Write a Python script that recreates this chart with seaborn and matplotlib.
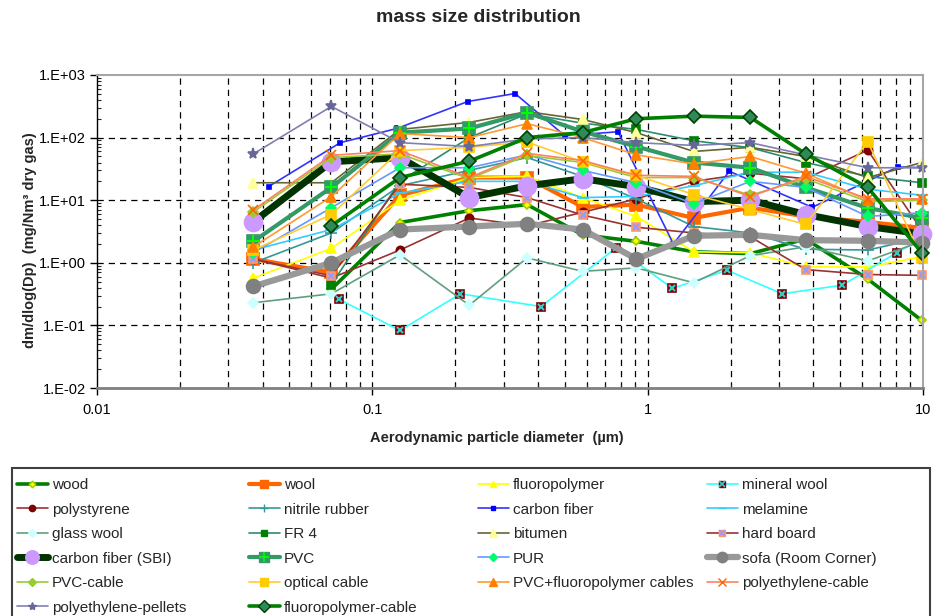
import numpy as np
import pandas as pd
import matplotlib
matplotlib.use("Agg")
import matplotlib.pyplot as plt
from matplotlib.lines import Line2D
from matplotlib.legend_handler import HandlerTuple
from matplotlib.patches import Rectangle
from matplotlib.ticker import FixedLocator, FuncFormatter, NullFormatter
import seaborn as sns

sns.set_style("white")
plt.rcParams["font.family"] = ["Liberation Sans", "DejaVu Sans"]

# impactor stage mid diameters (µm)
dp = [0.037, 0.071, 0.126, 0.225, 0.365, 0.58, 0.91, 1.47, 2.36, 3.75, 6.3, 9.9]
dp_mineral = [0.0758, 0.126, 0.209, 0.41, 0.77, 1.23, 1.94, 3.08, 5.1, 8.03, 9.9]
dp_carbon = [0.042, 0.0765, 0.123, 0.222, 0.33, 0.50, 0.78, 1.24, 1.98, 3.96, 8.1, 9.9]

# dm/dlog(Dp) in mg/Nm3 dry gas
wood = [np.nan, 0.38, 4.4, 6.8, 8.5, 2.8, 2.2, 1.5, 1.4, 2.4, 0.55, 0.12]
wool = [1.15, 0.7, 12, 23, 23, 7.8, 8.5, 5.2, 7.6, 5.5, 4.5, 3.6]
fluoropolymer = [0.57, 1.7, 10, 23, 24, 11, 5.5, 1.5, 1.45, 0.86, 0.86, 1.25]
mineral_wool = [0.26, 0.083, 0.32, 0.2, 1.75, 0.39, 0.76, 0.32, 0.44, 1.45, 2.4]
polystyrene = [1.15, 0.57, 1.6, 5.2, 3.9, 6.4, 10.5, 20, 27, 22, 63, 3.3]
nitrile_rubber = [1.0, 3.0, 17, 30, 48, 24, 10.5, 3.8, 3.0, 1.65, 1.6, 2.5]
carbon_fiber = [16.5, 83, 140, 377, 506, 107, 124, 2.0, 29, 7.7, 34, 33]
melamine = [1.6, 3.4, 13, 20, 20, 11, 11.5, 17, 28, 28, 15, 12]
glass_wool = [0.23, 0.32, 1.34, 0.21, 1.2, 0.73, 0.83, 0.48, 1.3, 1.8, 1.07, 2.2]
fr4 = [np.nan, 0.45, 20, 100, 240, 170, 135, 89, 69, 40, 24, 19]
bitumen = [19, 19, 135, 175, 260, 195, 120, 60, 70, 50, 23, 40]
hard_board = [1.15, 0.62, 18, 16, 11, 5.8, 3.7, 3.0, 2.6, 0.78, 0.65, 0.63]
carbon_fiber_sbi = [4.5, 41, 48, 11, 17, 22, 16.5, 9.5, 10, 5.9, 3.8, 2.9]
pvc = [2.2, 16, 120, 140, 250, 125, 72, 40, 33, 16, 7.5, 5.2]
pur = [1.45, 7.6, 33, 33, 53, 30, 19, 8.8, 20, 16, 5.5, 6.3]
sofa = [0.42, 1.0, 3.4, 3.8, 4.2, 3.4, 1.15, 2.7, 2.8, 2.3, 2.25, 2.1]
pvc_cable = [6.5, 48, 55, 22, 52, 40, 23, 23, 12, 22, 9.5, 10]
optical_cable = [1.6, 5.9, 62, 70, 85, 41, 25, 12.3, 7.1, 4.1, 86, 1.2]
pvc_fp_cables = [1.8, 11.4, 116, 100, 167, 100, 53, 38, 50, 27, 10, 10.5]
pe_cable = [7.0, 52, 62, 23, 56, 43, 25, 24, 11.4, 24, 10.5, 10.5]
pe_pellets = [55, 315, 83, 72, 95, 100, 83, 75, 83, 53, 33, 33]
fp_cable = [np.nan, 3.9, 23, 42, 100, 120, 200, 220, 210, 55, 16, 1.45]

# label, x, y, line colour, width, marker, size, face, edge, overlay marker
series = [
    ("wood", dp, wood, "#008000", 2.6, "D", 4.5, "#FFFF00", "#99CC00", None),
    ("wool", dp, wool, "#FF6600", 3.0, "s", 8, "#FF6600", "#FF6600", None),
    ("fluoropolymer", dp, fluoropolymer, "#FFFF00", 1.2, "^", 6.5, "#FFFF00", "#FFFF00", None),
    ("mineral wool", dp_mineral, mineral_wool, "#33FFFF", 1.2, "s", 6, "#800000", "#800000", ("x", "#33CCCC", 5)),
    ("polystyrene", dp, polystyrene, "#993333", 1.2, "o", 6, "#800000", "#800000", None),
    ("nitrile rubber", dp, nitrile_rubber, "#339999", 1.2, "+", 8, "#339999", "#339999", None),
    ("carbon fiber", dp_carbon, carbon_fiber, "#3333FF", 1.2, "s", 3.5, "#0000FF", "#0000FF", None),
    ("melamine", dp, melamine, "#33CCFF", 1.2, "_", 8, "#33CCFF", "#33CCFF", None),
    ("glass wool", dp, glass_wool, "#5F9F80", 1.2, "D", 5, "#CCFFFF", "#CCFFFF", None),
    ("FR 4", dp, fr4, "#2E8B6E", 1.2, "s", 6, "#008000", "#008000", None),
    ("bitumen", dp, bitumen, "#666633", 1.2, "^", 7, "#FFFF99", "#FFFF99", None),
    ("hard board", dp, hard_board, "#993333", 1.2, "s", 6, "#FF9966", "#FF9966", ("x", "#9999FF", 5)),
    ("carbon fiber (SBI)", dp, carbon_fiber_sbi, "#003300", 5.0, "o", 13, "#CC99FF", "#CC99FF", None),
    ("PVC", dp, pvc, "#339966", 3.0, "s", 9, "#339966", "#339966", ("+", "#00FF00", 9)),
    ("PUR", dp, pur, "#6699FF", 1.2, "D", 5, "#00FF66", "#00FF66", None),
    ("sofa (Room Corner)", dp, sofa, "#999999", 4.5, "o", 10, "#808080", "#808080", None),
    ("PVC-cable", dp, pvc_cable, "#99CC33", 1.2, "D", 5, "#99CC33", "#99CC33", None),
    ("optical cable", dp, optical_cable, "#FFCC33", 1.2, "s", 7, "#FFCC00", "#FFCC00", None),
    ("PVC+fluoropolymer cables", dp, pvc_fp_cables, "#FF9933", 1.2, "^", 7, "#FF8000", "#FF8000", None),
    ("polyethylene-cable", dp, pe_cable, "#FF8060", 1.2, "x", 7, "#FF6600", "#FF6600", None),
    ("polyethylene-pellets", dp, pe_pellets, "#8080B0", 1.2, "*", 8, "#666699", "#666699", None),
    ("fluoropolymer-cable", dp, fp_cable, "#008000", 2.6, "D", 7.5, "#2E8B57", "#004000", None),
]

fig = plt.figure(figsize=(9.35, 6.16), dpi=100)
ax = fig.add_axes([97 / 935, 1 - 388 / 616, (923 - 97) / 935, (388 - 75) / 616])

handles = []
for label, xs, ys, col, lw, mk, ms, fc, ec, over in series:
    d = pd.DataFrame({"dp": xs, "v": ys}).dropna()
    sns.lineplot(data=d, x="dp", y="v", ax=ax, color=col, lw=lw, marker=mk,
                 ms=ms, mfc=fc, mec=ec, mew=1.2, estimator=None, sort=False,
                 legend=False, clip_on=False)
    # legend key: same style, slightly smaller markers
    h = Line2D([], [], color=col, lw=lw, marker=mk, ms=ms * 0.75, mfc=fc, mec=ec, mew=1.0)
    if over is not None:
        om, oc, os_ = over
        sns.lineplot(data=d, x="dp", y="v", ax=ax, color=oc, ls="", marker=om,
                     ms=os_, mec=oc, mew=1.5, estimator=None, sort=False,
                     legend=False, clip_on=False)
        h = (h, Line2D([], [], ls="", marker=om, ms=os_ * 0.75, mec=oc, mew=1.2))
    handles.append((h, label))

ax.set_xscale("log")
ax.set_yscale("log")
ax.set_xlim(0.01, 10)
ax.set_ylim(0.01, 1000)

# dashed grid: every 1..9 step along x, decades along y
dash = (0, (5, 4))
for k in (-2, -1, 0):
    for i in range(1, 10):
        v = i * 10.0 ** k
        if 0.01 < v < 10:
            ax.axvline(v, color="black", lw=0.9, ls=dash, zorder=0.5)
for v in (0.1, 1, 10, 100):
    ax.axhline(v, color="black", lw=0.9, ls=dash, zorder=0.5)

ax.xaxis.set_major_locator(FixedLocator([0.01, 0.1, 1, 10]))
ax.xaxis.set_major_formatter(FuncFormatter(lambda v, p: f"{v:g}"))
ax.xaxis.set_minor_locator(FixedLocator([i * 10.0 ** k for k in (-2, -1, 0) for i in range(2, 10)]))
ax.xaxis.set_minor_formatter(NullFormatter())
ax.yaxis.set_major_locator(FixedLocator([0.01, 0.1, 1, 10, 100, 1000]))
ax.yaxis.set_major_formatter(FuncFormatter(lambda v, p: f"1.E{int(round(np.log10(v))):+03d}"))
ax.yaxis.set_minor_locator(FixedLocator([i * 10.0 ** k for k in (-2, -1, 0, 1, 2) for i in range(2, 10)]))
ax.yaxis.set_minor_formatter(NullFormatter())

ax.tick_params(axis="both", which="major", direction="out", length=5, width=1,
               labelsize=10.5, colors="black", left=True, bottom=True)
ax.tick_params(axis="both", which="minor", direction="in", length=3, width=0.8,
               left=True, bottom=True)
ax.tick_params(axis="x", pad=6)
ax.tick_params(axis="y", pad=3)

ax.spines["left"].set_color("black")
ax.spines["left"].set_linewidth(1.0)
ax.spines["bottom"].set_color("#808080")
ax.spines["bottom"].set_linewidth(2.0)
for s in ("top", "right"):
    ax.spines[s].set_color("#A6A6A6")
    ax.spines[s].set_linewidth(1.5)
ax.set_xlabel("")
ax.set_ylabel("")

fig.text(478 / 935, 1 - 18 / 616, "mass size distribution", ha="center", va="center",
         fontsize=14, fontweight="bold")
fig.text(497 / 935, 1 - 438 / 616, "Aerodynamic particle diameter  (µm)", ha="center",
         va="center", fontsize=10.5, fontweight="bold")
fig.text(30 / 935, 1 - 240 / 616, "dm/dlog(Dp)  (mg/Nm³ dry gas)", ha="center",
         va="center", rotation=90, fontsize=10.5, fontweight="bold")

# legend box with four fixed columns, entries filled row by row
fig.patches.append(Rectangle((12 / 935, -0.05), 918 / 935, 0.05 + 1 - 468 / 616,
                             transform=fig.transFigure, fill=False,
                             edgecolor="#404040", lw=1.5))
col_x = [14, 246, 475, 704]
for c, cx in enumerate(col_x):
    chunk = handles[c::4]
    fig.legend([e[0] for e in chunk], [e[1] for e in chunk], loc="upper left",
               bbox_to_anchor=(cx / 935, 1 - 475 / 616), frameon=False,
               fontsize=11, handlelength=2.0, handletextpad=0.3,
               labelspacing=0.69, borderpad=0.2, borderaxespad=0,
               handler_map={tuple: HandlerTuple(ndivide=1)})

fig.savefig("out.png", dpi=100)
